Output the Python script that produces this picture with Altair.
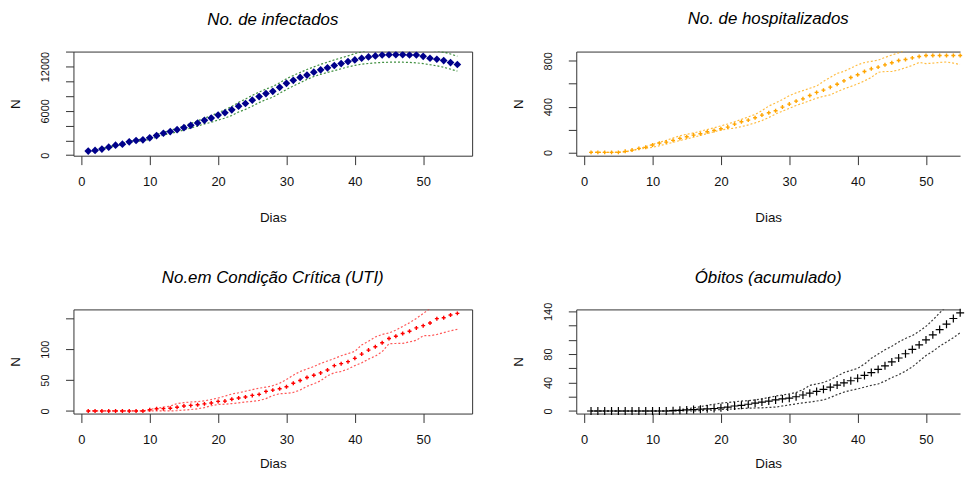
import altair as alt
import pandas as pd

FONT = "Liberation Sans"

days = list(range(1, 56))
x_ticks = [0, 10, 20, 30, 40, 50]

# --- No. de infectados ---
inf_mean = [555, 645, 823, 1090, 1360, 1495, 1805, 1985, 2075, 2345,
            2655, 2970, 3195, 3460, 3730, 4045, 4355, 4715, 5030, 5430,
            5745, 6145, 6640, 6995, 7445, 7935, 8340, 8650, 9190, 9725,
            10130, 10530, 10845, 11245, 11560, 11825, 12140, 12410, 12680, 12900,
            13125, 13305, 13435, 13570, 13615, 13615, 13615, 13570, 13570, 13390,
            13125, 12990, 12810, 12545, 12275]
inf_upper = [615, 705, 890, 1160, 1430, 1590, 1900, 2090, 2190, 2460,
             2800, 3120, 3350, 3650, 3950, 4300, 4650, 5020, 5350, 5750,
             6150, 6600, 7150, 7600, 8100, 8550, 8950, 9300, 9800, 10350,
             10800, 11200, 11600, 11960, 12300, 12590, 12900, 13170, 13450, 13750,
             14000, 14200, 14350, 14450, 14500, 14550, 14550, 14550, 14500, 14400,
             14250, 14100, 13950, 13700, 13400]
inf_lower = [500, 585, 760, 1020, 1290, 1410, 1710, 1880, 1900, 2150,
             2440, 2730, 2930, 3170, 3410, 3680, 3940, 4230, 4450, 4760,
             5020, 5380, 5850, 6200, 6640, 7120, 7530, 7850, 8380, 8900,
             9370, 9800, 10260, 10650, 10950, 11200, 11450, 11700, 11950, 12150,
             12320, 12420, 12500, 12560, 12590, 12600, 12590, 12560, 12500, 12400,
             12250, 12100, 11900, 11650, 11380]
inf_ticks = [0, 2000, 4000, 6000, 8000, 10000, 12000, 14000]
inf_labels = [0, 6000, 12000]

# --- No. de hospitalizados ---
hosp_mean = [0, 0, 0, 0, 0, 9, 20, 35, 44, 64,
             81, 90, 105, 122, 137, 151, 163, 180, 192, 207,
             221, 247, 268, 282, 303, 326, 346, 364, 396, 422,
             448, 468, 497, 524, 544, 570, 596, 625, 655, 678,
             707, 730, 745, 765, 783, 803, 812, 826, 838, 847,
             847, 847, 847, 847, 847]
hosp_upper = [0, 0, 0, 0, 2, 8, 18, 32, 50, 70,
              88, 105, 125, 145, 158, 170, 185, 200, 215, 232,
              248, 268, 288, 310, 332, 365, 405, 432, 462, 495,
              520, 540, 560, 580, 620, 655, 690, 708, 736, 765,
              785, 796, 806, 830, 850, 870, 895, 905, 915, 920,
              925, 925, 925, 925, 925]
hosp_lower = [0, 0, 0, 0, 0, 3, 15, 28, 36, 45,
              58, 72, 88, 104, 118, 132, 148, 165, 180, 196,
              205, 212, 225, 240, 258, 278, 305, 335, 360, 385,
              410, 430, 452, 474, 490, 503, 530, 555, 576, 598,
              625, 655, 700, 707, 707, 720, 740, 760, 786, 776,
              780, 786, 790, 780, 768]
hosp_ticks = [0, 200, 400, 600, 800]
hosp_labels = [0, 400, 800]

# --- No.em Condição Crítica (UTI) ---
uti_mean = [0, 0, 0, 0, 0, 0, 0, 0, 0, 2,
            3.5, 3.7, 4.5, 6, 8, 9, 10, 11.5, 13, 15.5,
            16, 19, 21, 22.6, 25.2, 26.9, 31.7, 33.8, 36, 39.2,
            45, 49.4, 54.2, 57.9, 61.7, 66.5, 73.5, 76.7, 79.9, 85.3,
            92.2, 98.7, 104, 110.5, 117.4, 121.2, 125.5, 129.2, 134.6, 138.3,
            142.6, 149.6, 151.2, 155.5, 158.2]
uti_upper = [0, 0, 0, 0, 0, 0, 0, 0, 0, 2.5,
             4.5, 6, 8, 12, 13.5, 14.5, 15.2, 16.5, 18.5, 21,
             24, 27.5, 29.5, 32, 34.5, 37, 38.5, 41, 45, 51,
             58, 64, 68, 72, 77, 81, 85, 89.5, 93, 96.5,
             107, 113, 120, 124, 126.5, 131, 137, 143, 150, 158,
             166, 172, 176, 180, 184]
uti_lower = [0, 0, 0, 0, 0, 0, 0, 0, 0, 0,
             0, 0, 0, 0.5, 1.5, 2.3, 3.5, 5.5, 8.5, 10.5,
             11, 12, 13, 14.5, 15.5, 17, 20, 25, 28, 28.5,
             30, 34, 40, 44, 49, 57, 62, 64, 68, 73.5,
             78, 84, 89, 96, 109, 109.4, 109.5, 112, 114.5, 122,
             122, 124, 127, 130, 132.4]
uti_ticks = [0, 50, 100, 150]
uti_labels = [0, 50, 100]

# --- Óbitos (acumulado) ---
obit_mean = [0, 0, 0, 0, 0, 0, 0, 0, 0, 0,
             0, 0, 0.5, 1, 1.5, 2, 2.5, 3, 3.5, 4.5,
             5.5, 7, 8, 9.5, 11, 12.5, 14, 15.5, 17, 18,
             20, 22.5, 25, 27.5, 30.5, 33.5, 36.5, 39.5, 42.5, 46,
             50, 54, 58.5, 63.5, 69, 74.5, 80.5, 86.5, 93, 100,
             107, 114.5, 122, 130, 138]
obit_upper = [0, 0, 0, 0, 0, 0, 0, 0, 0, 0,
              0, 0, 1, 2, 3, 4.5, 6, 8, 9.5, 11,
              12, 13, 14, 14.5, 15.5, 17, 19, 21, 22.5, 24,
              26, 30, 36, 38, 40, 44, 49, 54, 57, 60,
              66, 74, 80, 86, 91, 97, 102, 106, 112, 119,
              128, 138, 147, 155, 163]
obit_lower = [0, 0, 0, 0, 0, 0, 0, 0, 0, 0,
              0, 0, 0, 0, 0, 0, 0.5, 1, 1.5, 2,
              2.5, 3, 3.5, 4, 4.2, 4.5, 5, 5.5, 7, 8.5,
              10, 11.5, 12.5, 14, 15.5, 19, 23, 26.5, 29, 31,
              33.5, 36, 38, 42, 47, 51, 56, 62, 70, 78,
              84, 91, 97, 103, 110]
obit_ticks = [0, 20, 40, 60, 80, 100, 120, 140]
obit_labels = [0, 40, 80, 140]

PLUS = "M-1,0L1,0M0,-1L0,1"
W, H = 402, 105
WR = 387  # right column runs to the window edge, same px-per-day scale
AX = "#333333"


def panel(title, mean, upper, lower, ydom, yticks, ylabels, line_color,
          line_opacity, pt_color, pt_shape, pt_size, pt_filled, pt_sw,
          title_offset, dias_y, width, xmax, open_right):
    df = pd.DataFrame({"dia": days, "media": mean, "sup": upper, "inf": lower})
    xs = alt.Scale(domain=[-1.16, xmax], nice=False, zero=False)
    ys = alt.Scale(domain=ydom, nice=False, zero=False)
    xaxis = alt.Axis(values=x_ticks, title="Dias", format="d", grid=False,
                     domain=open_right, domainColor=AX, labelFlush=False,
                     labelOverlap=False, tickSize=9, labelPadding=11,
                     labelFontSize=13, titleY=dias_y,
                     titleBaseline="alphabetic")
    cond = " || ".join(f"datum.value == {v}" for v in ylabels)
    yaxis = alt.Axis(values=yticks, title="N", format="d", grid=False,
                     domain=open_right, domainColor=AX,
                     labelExpr=f"({cond}) ? datum.label : ''",
                     labelFlush=False, labelOverlap=False, tickSize=8,
                     labelAngle=270, labelAlign="center",
                     labelBaseline="bottom", labelPadding=15,
                     labelFontSize=11, titleAngle=270, titleX=-54,
                     titleY=H / 2, titleAlign="center",
                     titleBaseline="alphabetic")
    base = alt.Chart(df)
    x_main = alt.X("dia:Q", scale=xs, axis=xaxis)
    x_none = alt.X("dia:Q", scale=xs, axis=None) if open_right else x_main
    up = base.mark_line(clip=True, color=line_color, strokeDash=[2, 2],
                        strokeWidth=1.2, opacity=line_opacity).encode(
        x=x_main, y=alt.Y("sup:Q", scale=ys, axis=yaxis))
    lo = base.mark_line(clip=True, color=line_color, strokeDash=[2, 2],
                        strokeWidth=1.2, opacity=line_opacity).encode(
        x=x_none, y=alt.Y("inf:Q", scale=ys, axis=yaxis))
    if pt_filled:
        pts = base.mark_point(clip=not open_right, shape=pt_shape,
                              size=pt_size, filled=True, color=pt_color,
                              opacity=1)
    else:
        pts = base.mark_point(clip=not open_right, shape=pt_shape,
                              size=pt_size, filled=False, color=pt_color,
                              strokeWidth=pt_sw, opacity=1)
    pts = pts.encode(x=x_none, y=alt.Y("media:Q", scale=ys, axis=yaxis))
    ttl = alt.TitleParams(title, font=FONT, fontSize=17,
                          fontStyle="italic", fontWeight="normal",
                          color="#000000", baseline="alphabetic",
                          anchor="middle", frame="group",
                          offset=title_offset)
    if not open_right:
        return alt.layer(up, lo, pts).properties(width=width, height=H,
                                                 title=ttl)
    # panel cut by the window edge: frame drawn by axis lines (no right side)
    top = base.mark_point(opacity=0, clip=True).encode(
        x=alt.X("dia:Q", scale=xs,
                axis=alt.Axis(orient="top", labels=False, ticks=False,
                              domain=True, domainColor=AX, grid=False,
                              title=None)),
        y=alt.Y("media:Q", scale=ys, axis=yaxis))
    return alt.layer(up, lo, pts, top).resolve_axis(x="independent").properties(
        width=width, height=H, title=ttl,
        view=alt.ViewBackground(stroke="transparent"))


XMAX_L = 57.16
XMAX_R = -1.16 + 58.32 * WR / W

p1 = panel("No. de infectados", inf_mean, inf_upper, inf_lower,
           [-70, 14030], inf_ticks, inf_labels, "#1e7b1e", 0.85,
           "#00008B", "diamond", 60, True, 1, 9.5, 66, W, XMAX_L, False)
p2 = panel("No. de hospitalizados", hosp_mean, hosp_upper, hosp_lower,
           [-29, 881], hosp_ticks, hosp_labels, "#FFA500", 0.75,
           "#FFA500", PLUS, 16, False, 1.4, 9.5, 66, WR, XMAX_R, True)
p3 = panel("No.em Condição Crítica (UTI)", uti_mean, uti_upper, uti_lower,
           [-4.2, 164.6], uti_ticks, uti_labels, "#FF2020", 0.75,
           "#FF0000", PLUS, 16, False, 1.4, 9.5, 54, W, XMAX_L, False)
p4 = panel("Óbitos (acumulado)", obit_mean, obit_upper, obit_lower,
           [-3.6, 142.8], obit_ticks, obit_labels, "#222222", 0.9,
           "#000000", PLUS, 64, False, 1.2, 2.5, 54, WR, XMAX_R, True)

chart = alt.concat(p1, p2, p3, p4, columns=2,
                   spacing={"row": 155, "column": 105},
                   bounds="flush").properties(
    padding={"left": 0, "top": 0, "right": 0, "bottom": 0},
    background="white"
).configure_view(stroke=AX, strokeWidth=1).configure_axis(
    grid=False, domain=False, tickColor=AX, tickWidth=1, domainWidth=1,
    labelColor="#111111", labelFont=FONT, titleFont=FONT,
    titleFontWeight="normal", titleColor="#111111", titleFontSize=13.5
)

chart.save("out.html", embed_options={"renderer": "svg", "actions": False})
